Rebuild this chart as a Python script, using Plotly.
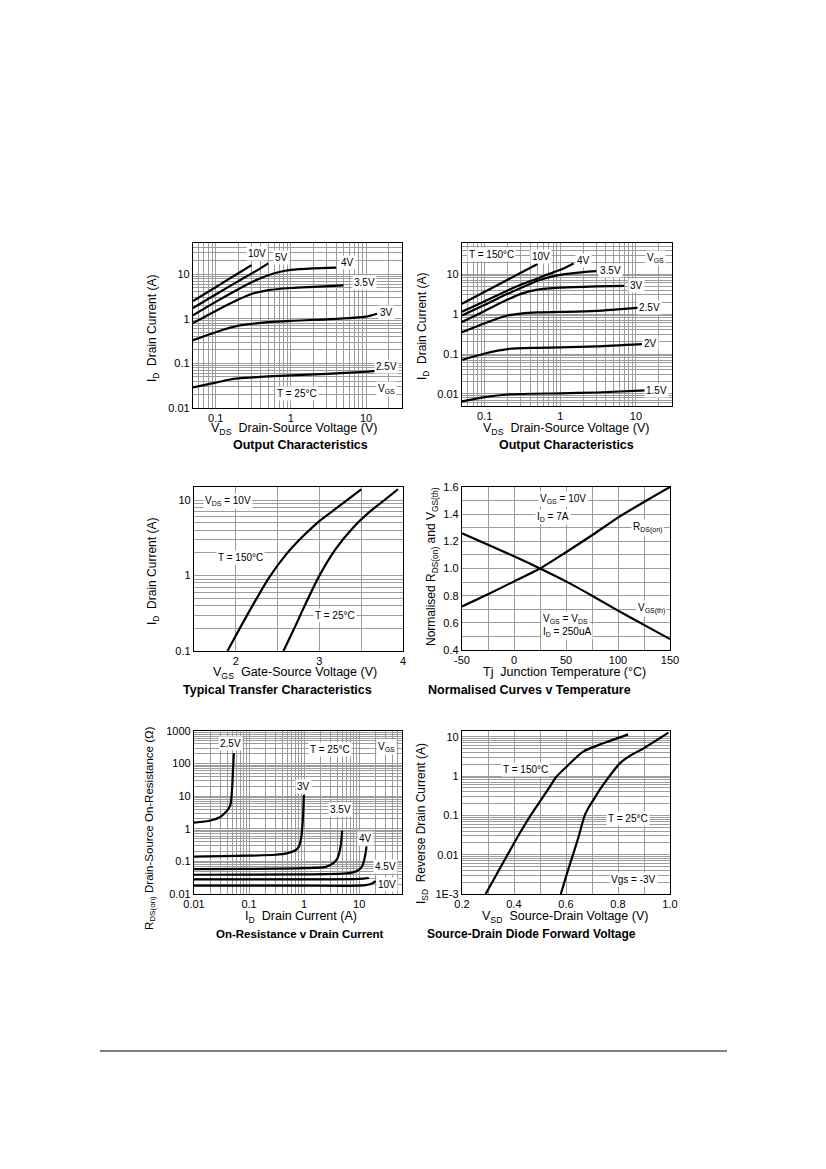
import math
import plotly.graph_objects as go

# page is 826x1169, the browser body adds an 8px margin
OX, OY = 8, 8
W, H = 826 - 2 * OX, 1169 - 2 * OY

# ---- Output characteristics, T = 25 C  (VDS in V, ID in A)
o25_10v_vds = [0.05, 0.1, 0.2, 0.3]
o25_10v_id = [2.5, 5.1, 10.5, 16]
o25_5v_vds = [0.05, 0.1, 0.2, 0.35, 0.5]
o25_5v_id = [1.75, 3.5, 7.0, 12, 17.5]
o25_4v_vds = [0.05, 0.1, 0.2, 0.3, 0.5, 0.7, 1, 2, 4]
o25_4v_id = [1.2, 2.4, 4.6, 6.6, 9.5, 11.2, 12.5, 13.5, 14]
o25_35v_vds = [0.05, 0.1, 0.2, 0.3, 0.5, 1, 2, 5]
o25_35v_id = [0.8, 1.5, 2.7, 3.6, 4.4, 4.9, 5.2, 5.6]
o25_3v_vds = [0.05, 0.1, 0.2, 0.5, 1, 3, 10, 14]
o25_3v_id = [0.33, 0.5, 0.7, 0.84, 0.9, 0.97, 1.12, 1.3]
o25_25v_vds = [0.05, 0.1, 0.15, 0.2, 0.5, 1, 3, 10, 14]
o25_25v_id = [0.029, 0.037, 0.043, 0.046, 0.051, 0.054, 0.058, 0.065, 0.068]

# ---- Output characteristics, T = 150 C
o150_10v_vds = [0.05, 0.1, 0.2, 0.3, 0.5]
o150_10v_id = [1.8, 3.6, 7.2, 10.8, 17.8]
o150_4v_vds = [0.05, 0.1, 0.2, 0.3, 0.5, 0.7, 1, 1.5]
o150_4v_id = [1.15, 2.1, 3.9, 5.4, 7.8, 10, 12.8, 18.5]
o150_35v_vds = [0.05, 0.1, 0.2, 0.3, 0.5, 0.7, 1, 2, 3]
o150_35v_id = [0.92, 1.7, 3.2, 4.5, 6.8, 8.3, 9.6, 11.2, 11.8]
o150_3v_vds = [0.05, 0.1, 0.2, 0.3, 0.5, 1, 3, 7]
o150_3v_id = [0.63, 1.2, 2.3, 3.2, 4.1, 4.6, 4.9, 5.1]
o150_25v_vds = [0.05, 0.1, 0.2, 0.3, 0.5, 1, 3, 11]
o150_25v_id = [0.35, 0.59, 0.92, 1.03, 1.1, 1.13, 1.2, 1.45]
o150_2v_vds = [0.05, 0.1, 0.2, 0.5, 1, 3, 12]
o150_2v_id = [0.071, 0.103, 0.133, 0.143, 0.147, 0.155, 0.177]
o150_15v_vds = [0.05, 0.1, 0.2, 1, 3, 13.5]
o150_15v_id = [0.0065, 0.0083, 0.0097, 0.0104, 0.0109, 0.0123]

# ---- Transfer characteristics (VGS in V, ID in A)
tr150_vgs = [1.9, 2.0, 2.2, 2.4, 2.6, 2.8, 3.0, 3.2, 3.5]
tr150_id = [0.1, 0.16, 0.4, 0.95, 1.9, 3.3, 5.3, 7.8, 14]
tr25_vgs = [2.57, 2.7, 2.8, 3.0, 3.2, 3.4, 3.6, 3.8, 3.94]
tr25_id = [0.1, 0.2, 0.35, 1.0, 2.3, 4.3, 7.0, 10.5, 14]

# ---- Normalised curves v temperature
tj = [-50, -25, 0, 25, 50, 75, 100, 125, 150]
rds_norm = [0.72, 0.81, 0.905, 1.0, 1.12, 1.245, 1.375, 1.49, 1.6]
vth_norm = [1.26, 1.175, 1.09, 1.0, 0.905, 0.8, 0.69, 0.585, 0.48]

# ---- On-resistance v drain current (ID in A, RDS in ohm)
ron_25v_id = [0.01, 0.02, 0.03, 0.036, 0.042, 0.046, 0.049, 0.051, 0.053]
ron_25v_r = [1.55, 1.8, 2.3, 3.0, 4.0, 5.5, 15, 60, 210]
ron_3v_id = [0.01, 0.1, 0.3, 0.5, 0.7, 0.8, 0.88, 0.94, 0.97, 0.99]
ron_3v_r = [0.14, 0.15, 0.16, 0.18, 0.22, 0.28, 0.5, 1.5, 4, 11]
ron_35v_id = [0.01, 0.1, 1, 2.5, 3.4, 4.0, 4.35, 4.65, 4.8, 4.9]
ron_35v_r = [0.058, 0.059, 0.062, 0.068, 0.088, 0.12, 0.18, 0.32, 0.55, 0.87]
ron_4v_id = [0.01, 1, 5, 8, 10, 11.5, 12.6, 13.2, 13.6]
ron_4v_r = [0.039, 0.04, 0.042, 0.047, 0.056, 0.075, 0.13, 0.2, 0.29]
ron_45v_id = [0.01, 1, 10, 15]
ron_45v_r = [0.028, 0.028, 0.029, 0.031]
ron_10v_id = [0.01, 1, 10, 14, 17, 20]
ron_10v_r = [0.018, 0.018, 0.018, 0.019, 0.021, 0.025]

# ---- Source-drain diode forward voltage (VSD in V, ISD in A)
sd150_vsd = [0.291, 0.331, 0.371, 0.422, 0.461, 0.499, 0.538, 0.563, 0.602, 0.666, 0.743, 0.839]
sd150_isd = [0.001, 0.003, 0.0089, 0.035, 0.093, 0.22, 0.54, 0.96, 1.73, 4.2, 6.8, 11.5]
sd25_vsd = [0.58, 0.603, 0.627, 0.65, 0.672, 0.69, 0.705, 0.73, 0.756, 0.807, 0.85, 0.897, 0.994]
sd25_isd = [0.001, 0.0032, 0.01, 0.031, 0.1, 0.17, 0.245, 0.45, 0.79, 2.1, 3.4, 5.0, 12.7]

# tick labels
out_x_ticks = [0.1, 1, 10]
out_x_text = ["0.1", "1", "10"]
out_y_ticks = [0.01, 0.1, 1, 10]
out_y_text = ["0.01", "0.1", "1", "10"]
tr_x_ticks = [2, 3, 4]
tr_x_text = ["2", "3", "4"]
tr_y_ticks = [0.1, 1, 10]
tr_y_text = ["0.1", "1", "10"]
tj_ticks = [-50, 0, 50, 100, 150]
tj_text = ["-50", "0", "50", "100", "150"]
norm_ticks = [0.4, 0.6, 0.8, 1.0, 1.2, 1.4, 1.6]
norm_text = ["0.4", "0.6", "0.8", "1.0", "1.2", "1.4", "1.6"]
ron_x_ticks = [0.01, 0.1, 1, 10]
ron_x_text = ["0.01", "0.1", "1", "10"]
ron_y_ticks = [0.01, 0.1, 1, 10, 100, 1000]
ron_y_text = ["0.01", "0.1", "1", "10", "100", "1000"]
sd_x_ticks = [0.2, 0.4, 0.6, 0.8, 1.0]
sd_x_text = ["0.2", "0.4", "0.6", "0.8", "1.0"]
sd_y_ticks = [0.001, 0.01, 0.1, 1, 10]
sd_y_text = ["1E-3", "0.01", "0.1", "1", "10"]

FONT = "Liberation Sans, Arial, sans-serif"
GRID = "#9c9c9c"


def log_grid(lo, hi):
    vals = []
    e = math.floor(math.log10(lo))
    while 10 ** e <= hi * 1.0001:
        for m in range(1, 10):
            v = m * 10 ** e
            if lo * 0.9999 <= v <= hi * 1.0001:
                vals.append(v)
        e += 1
    return vals


def lin_grid(lo, hi, step):
    n = int(round((hi - lo) / step))
    return [lo + i * step for i in range(n + 1)]


def dom_x(x0, x1):
    return [(x0 - OX) / W, (x1 - OX) / W]


def dom_y(y0, y1):
    return [1 - (y1 - OY) / H, 1 - (y0 - OY) / H]


def axis(dom, kind, rng, tickvals, ticktext, grid, anchor):
    return dict(
        domain=dom, type=kind, range=rng, anchor=anchor, automargin=False,
        tickmode="array", tickvals=tickvals, ticktext=ticktext,
        showgrid=False, zeroline=False, ticks="",
        showline=True, linecolor="black", linewidth=1.3, mirror=True,
        tickfont=dict(size=11, color="black", family=FONT),
        minor=dict(tickmode="array", tickvals=grid, showgrid=True,
                   gridcolor=GRID, gridwidth=0.8, ticks=""),
    )


fig = go.Figure()


def curve(x, y, n):
    sfx = "" if n == 1 else str(n)
    fig.add_trace(go.Scatter(
        x=x, y=y, mode="lines", xaxis="x" + sfx, yaxis="y" + sfx,
        line=dict(color="black", width=2.2, shape="spline", smoothing=0.7),
        hoverinfo="skip", showlegend=False,
    ))


# plot 1
for xs, ys in [(o25_10v_vds, o25_10v_id), (o25_5v_vds, o25_5v_id), (o25_4v_vds, o25_4v_id),
               (o25_35v_vds, o25_35v_id), (o25_3v_vds, o25_3v_id), (o25_25v_vds, o25_25v_id)]:
    curve(xs, ys, 1)
# plot 2
for xs, ys in [(o150_10v_vds, o150_10v_id), (o150_4v_vds, o150_4v_id), (o150_35v_vds, o150_35v_id),
               (o150_3v_vds, o150_3v_id), (o150_25v_vds, o150_25v_id), (o150_2v_vds, o150_2v_id),
               (o150_15v_vds, o150_15v_id)]:
    curve(xs, ys, 2)
# plot 3
curve(tr150_vgs, tr150_id, 3)
curve(tr25_vgs, tr25_id, 3)
# plot 4
curve(tj, rds_norm, 4)
curve(tj, vth_norm, 4)
# plot 5
for xs, ys in [(ron_25v_id, ron_25v_r), (ron_3v_id, ron_3v_r), (ron_35v_id, ron_35v_r),
               (ron_4v_id, ron_4v_r), (ron_45v_id, ron_45v_r), (ron_10v_id, ron_10v_r)]:
    curve(xs, ys, 5)
# plot 6
curve(sd150_vsd, sd150_isd, 6)
curve(sd25_vsd, sd25_isd, 6)

L = math.log10
layout = dict(
    xaxis=axis(dom_x(193, 402), "log", [L(0.05), L(30)], out_x_ticks, out_x_text, log_grid(0.05, 30), "y"),
    yaxis=axis(dom_y(243, 408), "log", [L(0.01), L(50)], out_y_ticks, out_y_text, log_grid(0.01, 50), "x"),
    xaxis2=axis(dom_x(462, 672), "log", [L(0.05), L(30)], out_x_ticks, out_x_text, log_grid(0.05, 30), "y2"),
    yaxis2=axis(dom_y(243, 406), "log", [L(0.005), L(60)], out_y_ticks, out_y_text, log_grid(0.005, 60), "x2"),
    xaxis3=axis(dom_x(194, 403), "linear", [1.5, 4], tr_x_ticks, tr_x_text, lin_grid(1.5, 4, 0.5), "y3"),
    yaxis3=axis(dom_y(487, 651), "log", [L(0.1), L(15)], tr_y_ticks, tr_y_text, log_grid(0.1, 15), "x3"),
    xaxis4=axis(dom_x(462, 670), "linear", [-50, 150], tj_ticks, tj_text, lin_grid(-50, 150, 25), "y4"),
    yaxis4=axis(dom_y(487, 650), "linear", [0.4, 1.6], norm_ticks, norm_text, lin_grid(0.4, 1.6, 0.1), "x4"),
    xaxis5=axis(dom_x(194, 402), "log", [L(0.01), L(60)], ron_x_ticks, ron_x_text, log_grid(0.01, 60), "y5"),
    yaxis5=axis(dom_y(731, 894), "log", [L(0.01), L(1000)], ron_y_ticks, ron_y_text, log_grid(0.01, 1000), "x5"),
    xaxis6=axis(dom_x(462, 670), "linear", [0.2, 1.0], sd_x_ticks, sd_x_text, lin_grid(0.2, 1.0, 0.1), "y6"),
    yaxis6=axis(dom_y(731, 894), "log", [L(0.001), L(14)], sd_y_ticks, sd_y_text, log_grid(0.001, 14), "x6"),
)

ann = []


def text(px, py, s, size=10, bold=False, angle=0, bg=None, xanchor="center"):
    d = dict(x=(px - OX) / W, y=1 - (py - OY) / H, xref="paper", yref="paper", text=s,
             showarrow=False, xanchor=xanchor, yanchor="middle", textangle=angle,
             font=dict(family=FONT, size=size, color="black"))
    if bold:
        d["text"] = "<b>" + s + "</b>"
    if bg:
        d["bgcolor"] = bg
        d["borderpad"] = 1
    ann.append(d)


def label(px, py, s, size=10):
    text(px, py, s, size=size, bg="white")


# curve labels
for px, py, s in [(256.7, 253.3, "10V"), (281.7, 257.7, "5V"), (347, 263, "4V"), (364, 283, "3.5V"),
                  (386, 312.3, "3V"), (386.7, 366.7, "2.5V"), (386.7, 389, "V<sub>GS</sub>"),
                  (297.3, 393.3, "T = 25°C"),
                  (491.7, 254.3, "T = 150°C"), (540.7, 256.7, "10V"), (583.3, 260, "4V"),
                  (610, 270, "3.5V"), (636.7, 285, "3V"), (649.3, 307.3, "2.5V"), (650, 344, "2V"),
                  (656.7, 390, "1.5V"), (655, 257.7, "V<sub>GS</sub>"),
                  (228.3, 501, "V<sub>DS</sub> = 10V"), (240.7, 557.7, "T = 150°C"), (335, 615, "T = 25°C"),
                  (562.7, 499, "V<sub>GS</sub> = 10V"), (553.3, 516.7, "I<sub>D</sub> = 7A"),
                  (647.3, 527.7, "R<sub>DS(on)</sub>"), (651.7, 608.3, "V<sub>GS(th)</sub>"),
                  (565, 619, "V<sub>GS</sub> = V<sub>DS</sub>"), (566.7, 632.3, "I<sub>D</sub> = 250uA"),
                  (230.7, 743.3, "2.5V"), (330, 749.3, "T = 25°C"), (386.7, 746.7, "V<sub>GS</sub>"),
                  (303.3, 786.7, "3V"), (340, 809, "3.5V"), (365, 838.3, "4V"), (385, 866.7, "4.5V"),
                  (386.7, 884.3, "10V"),
                  (525, 769.3, "T = 150°C"), (628.3, 818.3, "T = 25°C"), (633.3, 879.3, "Vgs = -3V")]:
    label(px, py, s)

# axis titles
for px, py, s in [(294, 428.5, "V<sub>DS</sub>  Drain-Source Voltage (V)"),
                  (566, 428.5, "V<sub>DS</sub>  Drain-Source Voltage (V)"),
                  (295, 672.5, "V<sub>GS</sub>  Gate-Source Voltage (V)"),
                  (564, 672, "Tj  Junction Temperature (°C)"),
                  (301, 917, "I<sub>D</sub>  Drain Current (A)"),
                  (565, 917, "V<sub>SD</sub>  Source-Drain Voltage (V)")]:
    text(px, py, s, size=12.5)

for px, py, s, sz in [(153, 329, "I<sub>D</sub>  Drain Current (A)", 12),
                      (423, 327, "I<sub>D</sub>  Drain Current (A)", 12),
                      (153, 572, "I<sub>D</sub>  Drain Current (A)", 12),
                      (432, 567, "Normalised R<sub>DS(on)</sub> and V<sub>GS(th)</sub>", 12),
                      (150, 828, "R<sub>DS(on)</sub> Drain-Source On-Resistance (Ω)", 11.5),
                      (422, 823, "I<sub>SD</sub>  Reverse Drain Current (A)", 12)]:
    text(px, py, s, size=sz, angle=-90)

# chart titles
for px, py, s, sz in [(300, 445, "Output Characteristics", 12.5),
                      (566, 445, "Output Characteristics", 12.5),
                      (277, 690, "Typical Transfer Characteristics", 12.5),
                      (529, 690, "Normalised Curves v Temperature", 12.5),
                      (300, 934, "On-Resistance v Drain Current", 11.5),
                      (531, 934, "Source-Drain Diode Forward Voltage", 12)]:
    text(px, py, s, size=sz, bold=True)

fig.update_layout(
    **layout,
    annotations=ann,
    shapes=[dict(type="line", xref="paper", yref="paper", x0=(100 - OX) / W, x1=(727 - OX) / W,
                 y0=1 - (1051 - OY) / H, y1=1 - (1051 - OY) / H, line=dict(color="black", width=1))],
    width=W, height=H,
    margin=dict(l=0, r=0, t=0, b=0, pad=0),
    template="none",
    plot_bgcolor="white", paper_bgcolor="white",
    showlegend=False,
    font=dict(family=FONT, color="black"),
)

fig.write_html("out.html")
